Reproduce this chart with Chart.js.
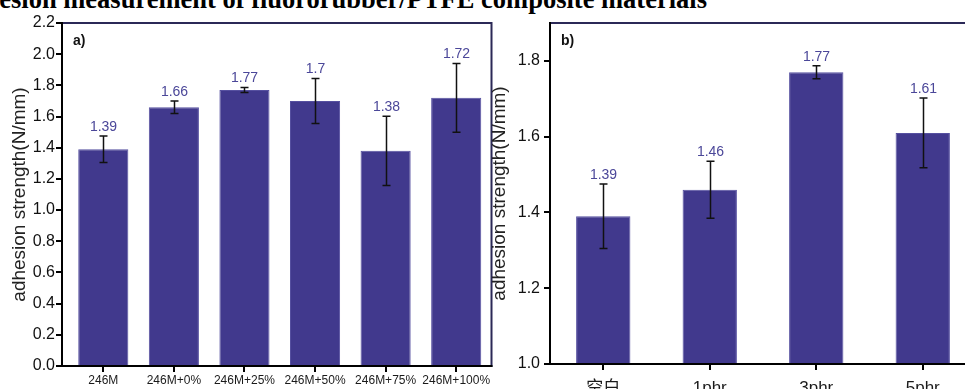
<!DOCTYPE html>
<html>
<head>
<meta charset="utf-8">
<script src="https://cdn.jsdelivr.net/npm/chart.js@4"></script>
<style>
  html, body { margin: 0; padding: 0; background: #fff; }
  body { width: 965px; height: 389px; overflow: hidden; position: relative; }
  #title {
    position: absolute; right: 258px; top: -14px;
    font: bold 26.5px 'Liberation Serif', 'Times New Roman', serif;
    line-height: 26px; white-space: nowrap; color: #000;
  }
  .panel { position: absolute; top: 0; height: 389px; width: 500px; }
  #pa { left: 0; }
  #pb { left: 480px; }
</style>
</head>
<body>
<div id="title">Adhesion measurement of fluororubber/PTFE composite materials</div>
<div class="panel" id="pa"><canvas id="ca"></canvas></div>
<div class="panel" id="pb"><canvas id="cb"></canvas></div>
<script>
// Panel a) – filler content series
const categoriesA = ['246M', '246M+0%', '246M+25%', '246M+50%', '246M+75%', '246M+100%'];
const valuesA = [1.39, 1.66, 1.77, 1.7, 1.38, 1.72];
const errorsA = [0.085, 0.04, 0.016, 0.144, 0.222, 0.22];
const yTicksA = [0.0, 0.2, 0.4, 0.6, 0.8, 1.0, 1.2, 1.4, 1.6, 1.8, 2.0, 2.2];

// Panel b) – additive loading series
const categoriesB = ['空白', '1phr', '3phr', '5phr'];
const valuesB = [1.39, 1.46, 1.77, 1.61];
const errorsB = [0.085, 0.075, 0.017, 0.092];
const yTicksB = [1.0, 1.2, 1.4, 1.6, 1.8];

const FONT = "'Liberation Sans', Arial, 'Noto Sans CJK SC', sans-serif";
Chart.defaults.font.family = FONT;
Chart.defaults.animation = false;

// Axis frame: black left/bottom axes, navy top/right border, outward tick marks, panel tag
const framePlugin = {
  id: 'frame',
  afterDatasetsDraw(chart, args, opts) {
    const { ctx, chartArea: a, scales: { x, y } } = chart;
    const ax = a.left - opts.gap;
    ctx.save();
    ctx.lineCap = 'square';
    ctx.lineWidth = 2;
    ctx.strokeStyle = '#2b2957';
    ctx.beginPath();
    ctx.moveTo(ax, a.top);
    ctx.lineTo(a.right, a.top);
    ctx.lineTo(a.right, a.bottom);
    ctx.stroke();
    ctx.strokeStyle = '#000';
    ctx.beginPath();
    ctx.moveTo(ax, a.top);
    ctx.lineTo(ax, a.bottom);
    ctx.lineTo(a.right, a.bottom);
    ctx.stroke();
    ctx.lineCap = 'butt';
    ctx.lineWidth = 2;
    ctx.beginPath();
    y.ticks.forEach(t => {
      const py = Math.round(y.getPixelForValue(t.value));
      ctx.moveTo(ax - 6, py);
      ctx.lineTo(ax, py);
    });
    x.ticks.forEach((t, i) => {
      const px = Math.round(x.getPixelForValue(i));
      ctx.moveTo(px, a.bottom);
      ctx.lineTo(px, a.bottom + 6);
    });
    ctx.stroke();
    ctx.fillStyle = '#111';
    ctx.font = 'bold 14px ' + FONT;
    ctx.textAlign = 'left';
    ctx.textBaseline = 'top';
    ctx.fillText(opts.tag, ax + 11, a.top + 11);
    ctx.restore();
  }
};

// Error bars with caps and the value label above each bar
const errorPlugin = {
  id: 'errs',
  afterDatasetsDraw(chart, args, opts) {
    const { ctx, scales: { y } } = chart;
    const meta = chart.getDatasetMeta(0);
    const vals = chart.data.datasets[0].data;
    ctx.save();
    ctx.strokeStyle = '#111';
    ctx.lineWidth = 1.5;
    meta.data.forEach((bar, i) => {
      const v = vals[i], e = opts.errors[i];
      const x = Math.round(bar.x) + 0.5;
      const yt = y.getPixelForValue(v + e);
      const yb = y.getPixelForValue(v - e);
      ctx.beginPath();
      ctx.moveTo(x, yt); ctx.lineTo(x, yb);
      ctx.moveTo(x - 4, yt); ctx.lineTo(x + 4, yt);
      ctx.moveTo(x - 4, yb); ctx.lineTo(x + 4, yb);
      ctx.stroke();
      ctx.fillStyle = '#4b4799';
      ctx.font = '14px ' + FONT;
      ctx.textAlign = 'center';
      ctx.textBaseline = 'bottom';
      ctx.fillText(String(v), x, yt - 2);
    });
    ctx.restore();
  }
};

function makeChart(id, cats, vals, errs, ticks, cfg) {
  return new Chart(document.getElementById(id), {
    type: 'bar',
    data: {
      labels: cats,
      datasets: [{
        data: vals,
        backgroundColor: '#41398d',
        borderColor: '#5650a0',
        borderWidth: 1,
        categoryPercentage: 1,
        barPercentage: cfg.barPct
      }]
    },
    options: {
      responsive: true,
      maintainAspectRatio: false,
      devicePixelRatio: 1,
      layout: { padding: { top: 23, right: cfg.padRight, left: 0, bottom: 0 } },
      plugins: {
        legend: { display: false },
        tooltip: { enabled: false },
        frame: { gap: cfg.gap, tag: cfg.tag },
        errs: { errors: errs }
      },
      scales: {
        x: {
          grid: { display: false, drawTicks: false },
          border: { display: false },
          afterFit(s) { s.height = cfg.xHeight; },
          ticks: {
            autoSkip: false, maxRotation: 0, minRotation: 0,
            padding: cfg.xPad, color: '#1a1a1a',
            font: { size: cfg.xFont }
          }
        },
        y: {
          min: cfg.min, max: cfg.max,
          grid: { display: false, drawTicks: false },
          border: { display: false },
          afterFit(s) { s.width = cfg.yWidth; },
          afterBuildTicks(s) { s.ticks = ticks.map(v => ({ value: v })); },
          ticks: {
            padding: cfg.yPad, color: '#111',
            font: { size: 16 },
            callback: v => Number(v).toFixed(1)
          },
          title: {
            display: true,
            text: 'adhesion strength(N/mm)',
            color: '#222',
            font: { size: 19 },
            padding: { top: 8.6, bottom: 0 }
          }
        }
      }
    },
    plugins: [framePlugin, errorPlugin]
  });
}

makeChart('ca', categoriesA, valuesA, errorsA, yTicksA, {
  min: 0, max: 2.2, barPct: 0.71, padRight: 8.5, gap: 6,
  yWidth: 68, yPad: 13, xHeight: 23, xPad: 7, xFont: 12, tag: 'a)'
});

makeChart('cb', categoriesB, valuesB, errorsB, yTicksB, {
  min: 1.0, max: 1.9, barPct: 0.51, padRight: 4, gap: 0,
  yWidth: 70, yPad: 10, xHeight: 25, xPad: 14, xFont: 17, tag: 'b)'
});
</script>
</body>
</html>
